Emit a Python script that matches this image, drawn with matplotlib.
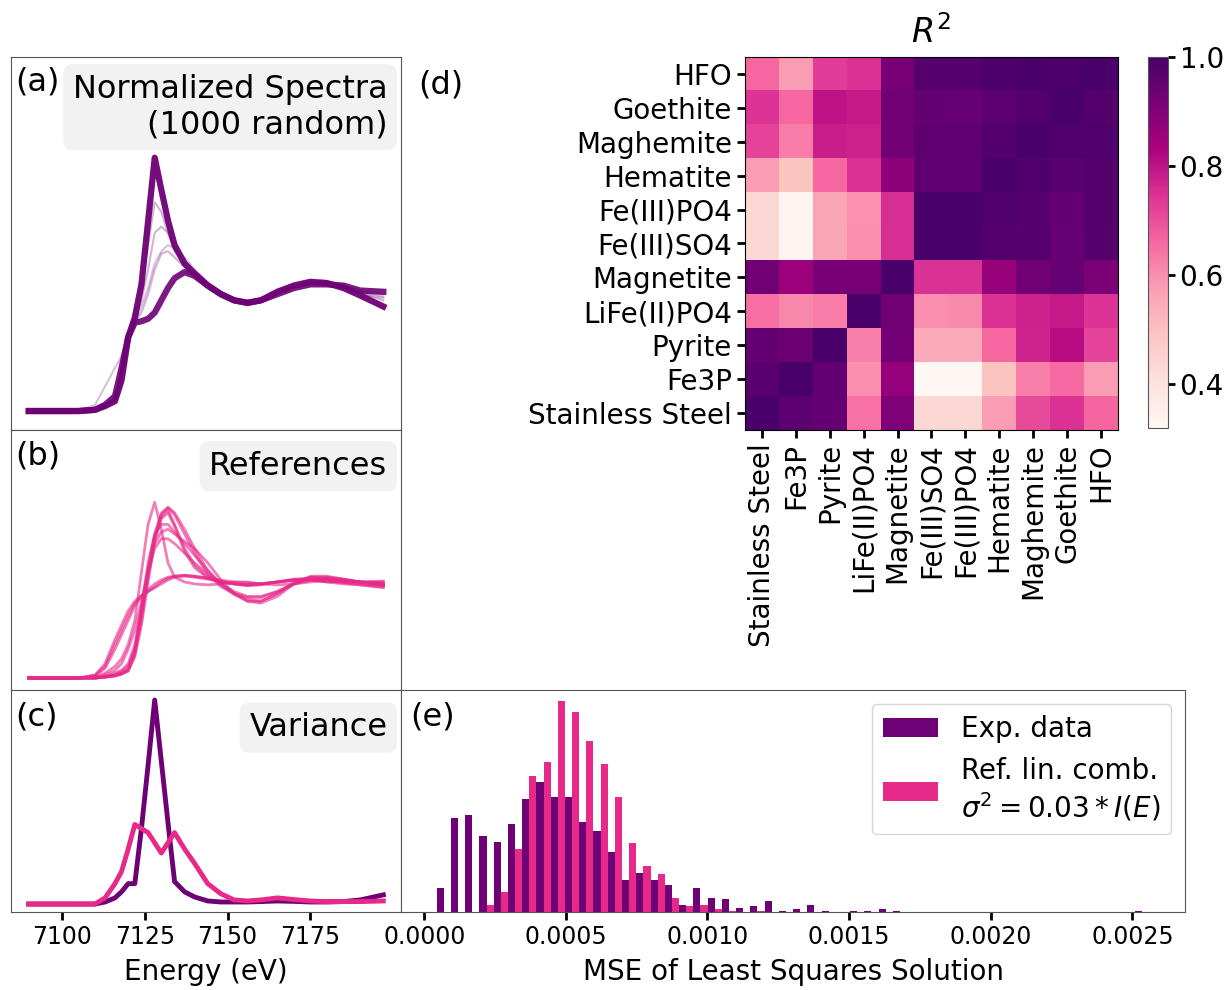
import matplotlib
matplotlib.use("Agg")
import matplotlib.pyplot as plt
import numpy as np

# ---------------- data ----------------
energy = [7090, 7105, 7110, 7113, 7116, 7118, 7120, 7122, 7124, 7126, 7128, 7130, 7132, 7134,
          7137, 7140, 7144, 7148, 7152, 7156, 7160, 7165, 7170, 7175, 7180, 7185, 7190, 7197]

# (a) representative experimental spectra (two dominant shapes + faint intermediates)
spec_high = [0, 0, 0.01, 0.04, 0.08, 0.25, 0.60, 0.76, 1.03, 1.54, 2.06, 1.80, 1.55, 1.35,
             1.20, 1.12, 1.02, 0.95, 0.90, 0.88, 0.90, 0.97, 1.02, 1.05, 1.04, 1.00, 0.94, 0.85]
spec_low = [0, 0, 0.01, 0.05, 0.12, 0.35, 0.60, 0.72, 0.73, 0.75, 0.80, 0.90, 1.00, 1.08,
            1.13, 1.10, 1.02, 0.95, 0.90, 0.88, 0.90, 0.95, 1.00, 1.03, 1.03, 1.02, 0.98, 0.97]
spec_mid = [0, 0, 0.01, 0.05, 0.10, 0.30, 0.60, 0.75, 0.90, 1.15, 1.45, 1.50, 1.45, 1.30,
            1.18, 1.10, 1.03, 0.95, 0.90, 0.88, 0.90, 0.96, 1.01, 1.04, 1.04, 1.01, 0.96, 0.90]
spec_early = [0, 0, 0.05, 0.20, 0.35, 0.45, 0.60, 0.72, 0.85, 1.00, 1.20, 1.30, 1.35, 1.32,
              1.25, 1.15, 1.05, 0.97, 0.91, 0.88, 0.90, 0.96, 1.01, 1.03, 1.03, 1.00, 0.95, 0.92]
spec_mid2 = [0, 0, 0.01, 0.04, 0.09, 0.28, 0.62, 0.80, 1.05, 1.35, 1.70, 1.62, 1.45, 1.32,
             1.20, 1.12, 1.03, 0.96, 0.91, 0.89, 0.91, 0.98, 1.04, 1.07, 1.06, 1.02, 0.97, 0.93]
spec_mid3 = [0, 0, 0.01, 0.05, 0.11, 0.33, 0.60, 0.73, 0.80, 0.95, 1.15, 1.28, 1.30, 1.25,
             1.17, 1.10, 1.02, 0.95, 0.90, 0.88, 0.90, 0.96, 1.02, 1.06, 1.05, 1.02, 0.98, 0.95]

# (b) reference spectra
references = {
    "HFO":          [0, 0, 0, 0.01, 0.03, 0.05, 0.10, 0.30, 0.70, 1.15, 1.50, 1.72, 1.77, 1.70,
                     1.50, 1.30, 1.08, 0.95, 0.88, 0.82, 0.80, 0.88, 1.00, 1.05, 1.04, 1.02, 1.00, 0.98],
    "Goethite":     [0, 0, 0, 0.01, 0.03, 0.05, 0.08, 0.25, 0.65, 1.10, 1.48, 1.70, 1.78, 1.72,
                     1.55, 1.35, 1.12, 0.97, 0.87, 0.80, 0.78, 0.85, 0.98, 1.06, 1.06, 1.03, 1.00, 0.97],
    "Maghemite":    [0, 0, 0, 0.02, 0.05, 0.08, 0.15, 0.35, 0.75, 1.20, 1.50, 1.60, 1.60, 1.52,
                     1.40, 1.28, 1.12, 0.98, 0.88, 0.84, 0.84, 0.90, 0.98, 1.02, 1.03, 1.02, 1.00, 0.99],
    "Hematite":     [0, 0, 0, 0.01, 0.04, 0.07, 0.12, 0.30, 0.70, 1.10, 1.40, 1.52, 1.55, 1.50,
                     1.42, 1.35, 1.20, 1.02, 0.88, 0.80, 0.80, 0.88, 0.98, 1.05, 1.05, 1.03, 1.00, 0.96],
    "Fe(III)PO4":   [0, 0, 0, 0.01, 0.02, 0.04, 0.08, 0.25, 0.60, 1.05, 1.45, 1.68, 1.75, 1.60,
                     1.35, 1.18, 1.05, 1.00, 0.98, 0.97, 0.98, 1.00, 1.02, 1.02, 1.00, 1.00, 1.00, 1.00],
    "Fe(III)SO4":   [0, 0, 0, 0.01, 0.02, 0.04, 0.07, 0.22, 0.55, 1.00, 1.42, 1.66, 1.72, 1.58,
                     1.32, 1.15, 1.04, 1.00, 0.98, 0.97, 0.98, 1.00, 1.02, 1.02, 1.01, 1.00, 1.00, 1.01],
    "Magnetite":    [0, 0, 0.01, 0.03, 0.08, 0.15, 0.30, 0.50, 0.80, 1.10, 1.35, 1.45, 1.45, 1.40,
                     1.30, 1.20, 1.08, 0.98, 0.90, 0.85, 0.85, 0.90, 0.98, 1.03, 1.04, 1.02, 1.00, 0.97],
    "LiFe(II)PO4":  [0, 0, 0.01, 0.05, 0.12, 0.20, 0.35, 0.60, 1.10, 1.60, 1.83, 1.55, 1.20, 1.05,
                     1.00, 0.98, 0.97, 0.98, 1.00, 1.00, 0.98, 0.97, 0.98, 1.00, 1.02, 1.02, 1.00, 0.98],
    "Pyrite":       [0, 0, 0.02, 0.10, 0.30, 0.45, 0.60, 0.75, 0.85, 0.92, 0.98, 1.02, 1.05, 1.06,
                     1.07, 1.06, 1.04, 1.02, 1.00, 0.99, 0.98, 1.00, 1.02, 1.03, 1.02, 1.00, 0.98, 0.96],
    "Fe3P":         [0, 0, 0.03, 0.15, 0.40, 0.55, 0.70, 0.80, 0.86, 0.90, 0.94, 0.98, 1.02, 1.05,
                     1.06, 1.05, 1.03, 1.00, 0.98, 0.97, 0.98, 1.00, 1.02, 1.02, 1.00, 0.98, 0.97, 0.95],
    "Stainless Steel": [0, 0, 0.03, 0.12, 0.35, 0.50, 0.65, 0.78, 0.85, 0.90, 0.95, 1.00, 1.04, 1.06,
                        1.07, 1.06, 1.04, 1.01, 0.98, 0.96, 0.97, 1.00, 1.03, 1.04, 1.02, 0.99, 0.97, 0.94],
}

# (c) variance
var_exp = [0, 0, 0, 0.01, 0.03, 0.06, 0.10, 0.10, 0.37, 0.68, 1.00, 0.70, 0.40, 0.11,
           0.06, 0.035, 0.015, 0.01, 0.01, 0.01, 0.012, 0.015, 0.013, 0.01, 0.01, 0.012, 0.02, 0.045]
var_ref = [0, 0, 0, 0.03, 0.10, 0.16, 0.27, 0.39, 0.37, 0.35, 0.30, 0.25, 0.30, 0.35,
           0.27, 0.20, 0.10, 0.05, 0.02, 0.015, 0.02, 0.03, 0.022, 0.015, 0.012, 0.012, 0.012, 0.015]

# (d) R^2 matrix, rows top -> bottom, columns left -> right
row_labels = ["HFO", "Goethite", "Maghemite", "Hematite", "Fe(III)PO4", "Fe(III)SO4",
              "Magnetite", "LiFe(II)PO4", "Pyrite", "Fe3P", "Stainless Steel"]
col_labels = row_labels[::-1]
r2 = [
    [0.66, 0.58, 0.73, 0.75, 0.92, 0.975, 0.975, 0.99, 0.995, 0.99, 1.00],
    [0.745, 0.66, 0.80, 0.79, 0.93, 0.95, 0.945, 0.965, 0.98, 1.00, 0.98],
    [0.72, 0.63, 0.78, 0.775, 0.93, 0.96, 0.96, 0.98, 1.00, 0.985, 0.985],
    [0.58, 0.49, 0.66, 0.75, 0.88, 0.96, 0.96, 1.00, 0.985, 0.97, 0.98],
    [0.43, 0.33, 0.56, 0.595, 0.755, 0.995, 1.00, 0.985, 0.975, 0.95, 0.98],
    [0.43, 0.33, 0.56, 0.60, 0.755, 1.00, 0.995, 0.98, 0.975, 0.945, 0.975],
    [0.93, 0.86, 0.915, 0.915, 1.00, 0.75, 0.75, 0.865, 0.93, 0.945, 0.91],
    [0.65, 0.61, 0.63, 1.00, 0.93, 0.60, 0.605, 0.75, 0.775, 0.79, 0.745],
    [0.95, 0.94, 1.00, 0.625, 0.925, 0.55, 0.55, 0.66, 0.77, 0.81, 0.72],
    [0.97, 1.00, 0.95, 0.60, 0.87, 0.32, 0.32, 0.49, 0.625, 0.655, 0.58],
    [1.00, 0.965, 0.95, 0.645, 0.905, 0.43, 0.43, 0.58, 0.71, 0.75, 0.665],
]

# (e) MSE histograms: 50 bins, counts per bin
mse_lo, mse_hi, n_bins = 0.000044, 0.00256, 50
counts_exp = [17, 67, 69, 54, 50, 63, 81, 93, 82, 82, 64, 58, 43, 23, 28, 23, 19, 5, 17, 10,
              9, 3, 4, 8, 1, 2, 5, 1, 0, 1, 1, 2, 1, 0, 0, 0, 0, 0, 0, 0,
              0, 0, 0, 0, 0, 0, 0, 0, 0, 1]
counts_ref = [0, 0, 0, 5, 14, 45, 97, 107, 151, 143, 122, 106, 82, 49, 33, 27, 10, 4, 5, 2,
              1, 0, 1, 0, 0, 0, 0, 0, 0, 0, 0, 0, 0, 0, 0, 0, 0, 0, 0, 0,
              0, 0, 0, 0, 0, 0, 0, 0, 0, 0]

purple = "#6e0175"
pink = "#e7298a"

# ---------------- figure ----------------
fig = plt.figure(figsize=(12.28, 9.9), dpi=100)

ax_a = fig.add_axes([0.009, 0.5657, 0.3176, 0.3768])
ax_b = fig.add_axes([0.009, 0.3030, 0.3176, 0.2627], sharex=ax_a)
ax_c = fig.add_axes([0.009, 0.0788, 0.3176, 0.2242], sharex=ax_a)
ax_d = fig.add_axes([0.6067, 0.5657, 0.3037, 0.3768])
ax_cb = fig.add_axes([0.9349, 0.5677, 0.0160, 0.3747])
ax_e = fig.add_axes([0.3266, 0.0788, 0.6384, 0.2242])

box = dict(boxstyle="round,pad=0.3", facecolor="#f2f2f2", edgecolor="none")

# (a)
for curve, lw, al in [(spec_early, 1.5, 0.25), (spec_mid, 1.5, 0.3), (spec_mid2, 1.5, 0.3),
                      (spec_mid3, 1.5, 0.3), (spec_low, 4.5, 0.9), (spec_high, 4.5, 0.95)]:
    ax_a.plot(energy, curve, color=purple, lw=lw, alpha=al)
ax_a.set_ylim(-0.154, 2.88)
ax_a.text(0.012, 0.975, "(a)", transform=ax_a.transAxes, ha="left", va="top", fontsize=23)
ax_a.text(0.965, 0.955, "Normalized Spectra\n(1000 random)", transform=ax_a.transAxes,
          ha="right", va="top", fontsize=23, multialignment="right", bbox=box)

# (b)
for name, curve in references.items():
    ax_b.plot(energy, curve, color=pink, lw=2, alpha=0.6)
ax_b.set_ylim(-0.125, 2.583)
ax_b.text(0.012, 0.96, "(b)", transform=ax_b.transAxes, ha="left", va="top", fontsize=23)
ax_b.text(0.965, 0.92, "References", transform=ax_b.transAxes, ha="right", va="top",
          fontsize=23, bbox=box)

# (c)
ax_c.plot(energy, var_exp, color=purple, lw=3.5)
ax_c.plot(energy, var_ref, color=pink, lw=3.5)
ax_c.set_ylim(-0.039, 1.049)
ax_c.text(0.012, 0.95, "(c)", transform=ax_c.transAxes, ha="left", va="top", fontsize=23)
ax_c.text(0.965, 0.9, "Variance", transform=ax_c.transAxes, ha="right", va="top",
          fontsize=23, bbox=box)
ax_c.set_xticks([7100, 7125, 7150, 7175])
ax_c.set_xlabel("Energy (eV)", fontsize=20, labelpad=6)
ax_c.tick_params(axis="x", labelsize=17, width=2, length=6)

for ax in (ax_a, ax_b, ax_c):
    ax.set_yticks([])
for ax in (ax_a, ax_b):
    ax.tick_params(axis="x", bottom=False, labelbottom=False)

# (d)
im = ax_d.imshow(np.array(r2), cmap="RdPu", aspect="auto")
ax_d.set_xticks(range(len(col_labels)))
ax_d.set_xticklabels(col_labels, rotation=90, fontsize=20)
ax_d.set_yticks(range(len(row_labels)))
ax_d.set_yticklabels(row_labels, fontsize=20)
ax_d.tick_params(width=2, length=6)
ax_d.set_title("$R^2$", fontsize=24, pad=10)
fig.text(418 / 1228, 1 - 70 / 990, "(d)", ha="left", va="top", fontsize=23)
cb = fig.colorbar(im, cax=ax_cb)
cb.set_ticks([0.4, 0.6, 0.8, 1.0])
cb.ax.tick_params(labelsize=20, width=2, length=5)
cb.outline.set_edgecolor("#555555")

# (e)
edges = np.linspace(mse_lo, mse_hi, n_bins + 1)
centers = 0.5 * (edges[:-1] + edges[1:])
ax_e.hist([centers, centers], bins=edges, weights=[counts_exp, counts_ref],
          color=[purple, pink], rwidth=1.0, label=["Exp. data",
          "Ref. lin. comb.\n$\\sigma^2 = 0.03 * I(E)$"])
ax_e.set_yticks([])
ax_e.set_xticks([0.0, 0.0005, 0.0010, 0.0015, 0.0020, 0.0025])
ax_e.set_xticklabels(["0.0000", "0.0005", "0.0010", "0.0015", "0.0020", "0.0025"])
ax_e.tick_params(axis="x", labelsize=17, width=2, length=6)
ax_e.set_xlabel("MSE of Least Squares Solution", fontsize=20, labelpad=6)
ax_e.text(0.012, 0.95, "(e)", transform=ax_e.transAxes, ha="left", va="top", fontsize=23)
ax_e.legend(loc="upper right", fontsize=20, handlelength=2.0)

for ax in (ax_a, ax_b, ax_c, ax_e):
    for sp in ax.spines.values():
        sp.set_edgecolor("#555555")

fig.savefig("out.png", dpi=100)
